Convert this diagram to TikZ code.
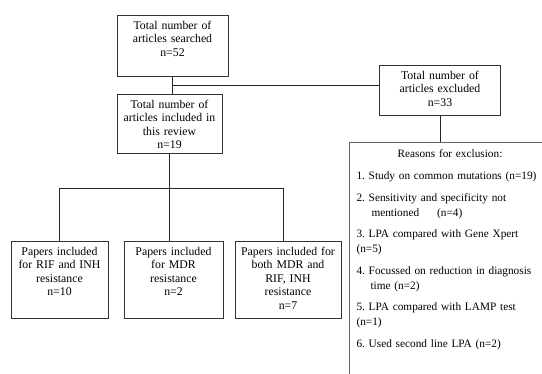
\documentclass[tikz,border=0pt]{standalone}
\usepackage{fontspec}
\setmainfont{Liberation Serif}
\usetikzlibrary{positioning,calc}

\begin{document}
\frenchspacing
\begin{tikzpicture}[
      x=1pt, y=-1pt,
      font=\fontsize{11.8}{13.5}\selectfont,
      fbox/.style={rectangle, draw=black!80, line width=0.8pt, anchor=north,
          align=center, inner xsep=2pt, inner ysep=0pt, text height=14pt},
      reasonbox/.style={rectangle, draw=black!60, line width=1pt, anchor=north west,
          align=left, inner xsep=7pt, inner ysep=0pt, text width=190pt,
          font=\fontsize{11.3}{15}\selectfont,
          text height=15.5pt, text depth=330pt},
      flow/.style={draw=black!85, line width=0.8pt}
  ]
  \useasboundingbox (0,0) rectangle (542,374);
  \node[fbox, text width=107pt, text depth=47pt] (searched) at (172.5,15) {%
      Total number of\\articles searched\\n=52};
  \node[fbox, text width=101pt, text depth=45pt] (included) at (169.5,94) {%
      Total number of\\articles included in\\this review\\n=19};
  \node[fbox, text width=117pt, text depth=36pt] (excluded) at (440,65) {%
      Total number of\\articles excluded\\n=33};
  \node[reasonbox] (reasons) at (349,142) {%
      \makebox[187pt]{Reasons for exclusion:}\\[7pt]
      1. Study on common mutations (n=19)\\[6.5pt]
      2. Sensitivity and specificity not\\
      \hspace*{15pt}mentioned\hspace{18pt}(n=4)\\[6.5pt]
      3. LPA compared with Gene Xpert\\
      (n=5)\\[6.5pt]
      4. Focussed on reduction in diagnosis\\
      \hspace*{14pt}time (n=2)\\[6.5pt]
      5. LPA compared with LAMP test\\
      (n=1)\\[6.5pt]
      6. Used second line LPA (n=2)};
  \node[fbox, text width=93pt, text depth=63pt] (rifinh) at (59.5,241) {%
      Papers included\\for RIF and INH\\resistance\\n=10};
  \node[fbox, text width=95pt, text depth=63pt] (mdr) at (173.5,241) {%
      Papers included\\for MDR\\resistance\\n=2};
  \node[fbox, text width=102pt, text depth=63pt] (both) at (288,241) {%
      Papers included for\\both MDR and\\RIF, INH\\resistance\\n=7};
  \coordinate (split) at ($(searched.south)!0.5!(searched.south |- included.north)$);
  \coordinate (hub) at ($(included.south)+(0,35)$);
  \draw[flow] (searched.south) -- (searched.south |- included.north);
  \draw[flow] (split) -- (split -| excluded.west);
  \draw[flow] (excluded.south) -- (excluded.south |- reasons.north);
  \draw[flow] (included.south) -- (included.south |- mdr.north);
  \draw[flow] (rifinh.north) |- ([xshift=-5pt]both.north |- hub) -- ([xshift=-5pt]both.north);
\end{tikzpicture}
\end{document}
